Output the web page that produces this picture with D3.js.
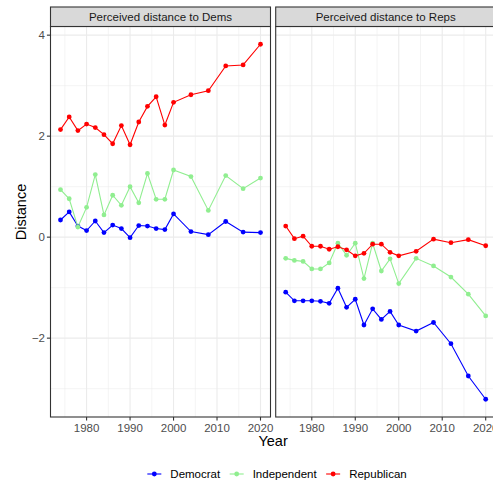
<!DOCTYPE html>
<html>
<head>
<meta charset="utf-8">
<script src="https://cdn.jsdelivr.net/npm/d3@7"></script>
<style>
  body { margin: 0; background: #fff; }
  text { font-family: "Liberation Sans", Arial, sans-serif; }
</style>
</head>
<body>
<svg id="chart" width="493" height="485"></svg>
<script>
// survey years
const years = [1974, 1976, 1978, 1980, 1982, 1984, 1986, 1988, 1990, 1992,
  1994, 1996, 1998, 2000, 2004, 2008, 2012, 2016, 2020];

const parties = ["Democrat", "Independent", "Republican"];
const partyColors = ["#0000FF", "#90EE90", "#FF0000"];

const facets = ["Perceived distance to Dems", "Perceived distance to Reps"];

// distance to Dems
const demsDemocrat = [0.34, 0.50, 0.22, 0.13, 0.32, 0.09, 0.24, 0.17, -0.01, 0.23,
  0.22, 0.17, 0.15, 0.46, 0.11, 0.05, 0.31, 0.10, 0.09];
const demsIndependent = [0.94, 0.76, 0.20, 0.59, 1.24, 0.44, 0.83, 0.63, 1.00, 0.68,
  1.26, 0.75, 0.75, 1.33, 1.20, 0.53, 1.22, 0.96, 1.17];
const demsRepublican = [2.13, 2.38, 2.11, 2.24, 2.17, 2.03, 1.85, 2.21, 1.83, 2.28,
  2.59, 2.78, 2.22, 2.67, 2.82, 2.90, 3.39, 3.41, 3.82];

// distance to Reps
const repsDemocrat = [-1.09, -1.26, -1.26, -1.26, -1.27, -1.31, -1.01, -1.39, -1.23, -1.74,
  -1.42, -1.63, -1.47, -1.74, -1.86, -1.69, -2.11, -2.75, -3.21];
const repsIndependent = [-0.42, -0.46, -0.48, -0.63, -0.63, -0.51, -0.12, -0.36, -0.12, -0.82,
  -0.12, -0.67, -0.43, -0.92, -0.42, -0.57, -0.79, -1.13, -1.56];
const repsRepublican = [0.22, -0.03, 0.02, -0.18, -0.18, -0.24, -0.19, -0.25, -0.37, -0.32,
  -0.14, -0.14, -0.30, -0.37, -0.28, -0.04, -0.11, -0.05, -0.17];

const xTicks = [1980, 1990, 2000, 2010, 2020];
const xMinor = [1975, 1985, 1995, 2005, 2015];
const yTicks = [-2, 0, 2, 4];
const yMinor = [-3, -1, 1, 3];

const panelData = [
  [demsDemocrat, demsIndependent, demsRepublican],
  [repsDemocrat, repsIndependent, repsRepublican]
];

const svg = d3.select("#chart");

// layout
const panelW = 220, panelTop = 26.5, panelBottom = 417, stripTop = 7;
const panelX = [50.5, 275.7];

// scales (ggplot-style 5% expansion)
const allVals = panelData.flat(2);
const yMin = d3.min(allVals), yMax = d3.max(allVals);
const yPad = (yMax - yMin) * 0.05;
const y = d3.scaleLinear().domain([yMin - yPad, yMax + yPad]).range([panelBottom, panelTop]);
const xPad = (d3.max(years) - d3.min(years)) * 0.05;

const fmt = d => d < 0 ? "\u2212" + Math.abs(d) : String(d);

facets.forEach((title, fi) => {
  const x0 = panelX[fi];
  const x = d3.scaleLinear()
    .domain([d3.min(years) - xPad, d3.max(years) + xPad])
    .range([x0, x0 + panelW]);

  const g = svg.append("g");

  // grid
  g.selectAll(".ymin").data(yMinor).join("line")
    .attr("x1", x0).attr("x2", x0 + panelW)
    .attr("y1", d => y(d)).attr("y2", d => y(d))
    .attr("stroke", "#EBEBEB").attr("stroke-width", 0.55);
  g.selectAll(".xmin").data(xMinor).join("line")
    .attr("y1", panelTop).attr("y2", panelBottom)
    .attr("x1", d => x(d)).attr("x2", d => x(d))
    .attr("stroke", "#EBEBEB").attr("stroke-width", 0.55);
  g.selectAll(".ymaj").data(yTicks).join("line")
    .attr("x1", x0).attr("x2", x0 + panelW)
    .attr("y1", d => y(d)).attr("y2", d => y(d))
    .attr("stroke", "#EBEBEB").attr("stroke-width", 1.1);
  g.selectAll(".xmaj").data(xTicks).join("line")
    .attr("y1", panelTop).attr("y2", panelBottom)
    .attr("x1", d => x(d)).attr("x2", d => x(d))
    .attr("stroke", "#EBEBEB").attr("stroke-width", 1.1);

  // series
  const line = d3.line().x((d, i) => x(years[i])).y(d => y(d));
  panelData[fi].forEach((vals, si) => {
    g.append("path").datum(vals)
      .attr("d", line)
      .attr("fill", "none")
      .attr("stroke", partyColors[si])
      .attr("stroke-width", 1.1);
    g.selectAll(null).data(vals).join("circle")
      .attr("cx", (d, i) => x(years[i]))
      .attr("cy", d => y(d))
      .attr("r", 2.4)
      .attr("fill", partyColors[si]);
  });

  // panel border
  g.append("rect")
    .attr("x", x0).attr("y", panelTop)
    .attr("width", panelW).attr("height", panelBottom - panelTop)
    .attr("fill", "none").attr("stroke", "#333333").attr("stroke-width", 1.1);

  // strip
  g.append("rect")
    .attr("x", x0).attr("y", stripTop)
    .attr("width", panelW).attr("height", panelTop - stripTop)
    .attr("fill", "#D9D9D9").attr("stroke", "#333333").attr("stroke-width", 1.1);
  g.append("text")
    .attr("x", x0 + panelW / 2).attr("y", (stripTop + panelTop) / 2 + 4)
    .attr("text-anchor", "middle")
    .attr("font-size", 11.5).attr("fill", "#1A1A1A")
    .text(title);

  // x axis ticks
  g.selectAll(".xt").data(xTicks).join("line")
    .attr("x1", d => x(d)).attr("x2", d => x(d))
    .attr("y1", panelBottom).attr("y2", panelBottom + 3.6)
    .attr("stroke", "#333333").attr("stroke-width", 1.1);
  g.selectAll(".xl").data(xTicks).join("text")
    .attr("x", d => x(d)).attr("y", panelBottom + 14.5)
    .attr("text-anchor", "middle")
    .attr("font-size", 11.5).attr("fill", "#4D4D4D")
    .text(d => d);

  // y axis on first panel only
  if (fi === 0) {
    g.selectAll(".yt").data(yTicks).join("line")
      .attr("x1", x0 - 3.6).attr("x2", x0)
      .attr("y1", d => y(d)).attr("y2", d => y(d))
      .attr("stroke", "#333333").attr("stroke-width", 1.1);
    g.selectAll(".yl").data(yTicks).join("text")
      .attr("x", x0 - 5.5).attr("y", d => y(d) + 4)
      .attr("text-anchor", "end")
      .attr("font-size", 11.5).attr("fill", "#4D4D4D")
      .text(fmt);
  }
});

// axis titles
svg.append("text")
  .attr("x", (panelX[0] + panelX[1] + panelW) / 2).attr("y", 446)
  .attr("text-anchor", "middle")
  .attr("font-size", 14.5).attr("fill", "#000")
  .text("Year");
svg.append("text")
  .attr("transform", `translate(26,${(stripTop + panelBottom) / 2}) rotate(-90)`)
  .attr("text-anchor", "middle")
  .attr("font-size", 14.5).attr("fill", "#000")
  .text("Distance");

// legend
const legend = svg.append("g");
const keyW = 14, keyGap = 9, itemGap = 9.5;
let cx = 0;
parties.forEach((p, i) => {
  const it = legend.append("g").attr("transform", `translate(${cx},0)`);
  it.append("line").attr("x1", 0).attr("x2", keyW)
    .attr("y1", 0).attr("y2", 0)
    .attr("stroke", partyColors[i]).attr("stroke-width", 1.1);
  it.append("circle").attr("cx", keyW / 2).attr("cy", 0).attr("r", 2.4)
    .attr("fill", partyColors[i]);
  const t = it.append("text").attr("x", keyW + keyGap).attr("y", 4)
    .attr("font-size", 11.5).attr("fill", "#000").text(p);
  cx += keyW + keyGap + t.node().getComputedTextLength() + itemGap;
});
const legW = cx - itemGap;
legend.attr("transform", `translate(${277 - legW / 2},474)`);
</script>
</body>
</html>
